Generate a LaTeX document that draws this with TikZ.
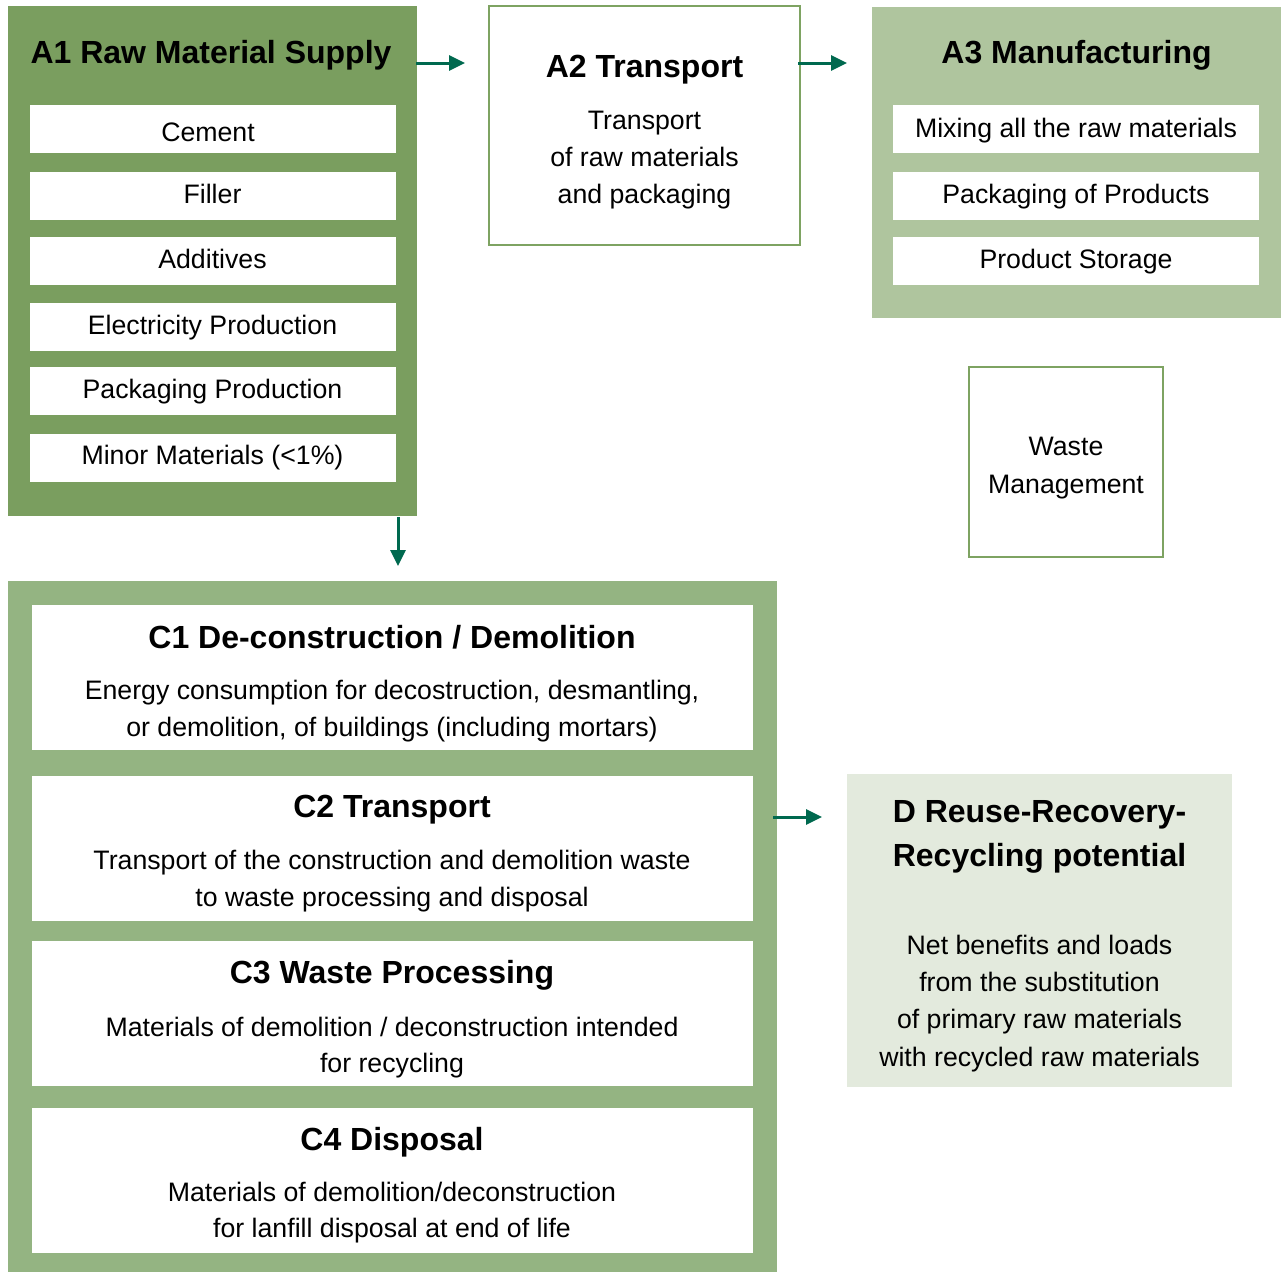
\documentclass[tikz,border=0pt]{standalone}
\usepackage{fontspec}
\setmainfont{Liberation Sans}
\usetikzlibrary{arrows.meta,calc}
\definecolor{aone}{HTML}{7A9E5F}
\definecolor{athree}{HTML}{AFC59E}
\definecolor{cgreen}{HTML}{94B482}
\definecolor{dgreen}{HTML}{E3EADD}
\definecolor{arr}{HTML}{00694F}
\definecolor{bord}{HTML}{7EA362}
\tikzset{
  panel/.style={anchor=north west, inner sep=0pt, outer sep=0pt, draw=none},
  whitebox/.style={panel, fill=white},
  framebox/.style={anchor=north west, inner sep=0pt, outer sep=0pt, draw=bord, line width=2.2pt, fill=white},
  ttl/.style={anchor=base, inner sep=0pt, yshift=-1pt, font=\fontsize{32}{38}\selectfont\bfseries},
  bodytxt/.style={anchor=base, inner sep=0pt, yshift=-1pt, font=\fontsize{26.7}{37}\selectfont},
  flow/.style={draw=arr, line width=3pt, -{Triangle[length=16pt,width=15pt]}}
}
\begin{document}
\begin{tikzpicture}[x=1pt,y=-1pt]
\useasboundingbox (0,0) rectangle (1281,1272);

% ---------- A1 ----------
\node[panel, fill=aone, minimum width=409pt, minimum height=510pt] (a1) at (8,6) {};
\node[ttl] (a1t) at (211,62) {A1 Raw Material Supply};
\node[whitebox, minimum width=366pt, minimum height=48pt] (a1b1) at (30,105) {};
\node[whitebox, minimum width=366pt, minimum height=48pt] (a1b2) at (30,172) {};
\node[whitebox, minimum width=366pt, minimum height=48pt] (a1b3) at (30,237) {};
\node[whitebox, minimum width=366pt, minimum height=48pt] (a1b4) at (30,303) {};
\node[whitebox, minimum width=366pt, minimum height=48pt] (a1b5) at (30,367) {};
\node[whitebox, minimum width=366pt, minimum height=48pt] (a1b6) at (30,434) {};
\node[bodytxt] (a1x1) at (208,140) {Cement};
\node[bodytxt] (a1x2) at (212.5,202.7) {Filler};
\node[bodytxt] (a1x3) at (212.5,267.3) {Additives};
\node[bodytxt] (a1x4) at (212.5,333.3) {Electricity Production};
\node[bodytxt] (a1x5) at (212.5,397.7) {Packaging Production};
\node[bodytxt] (a1x6) at (212.5,463.3) {Minor Materials (<1\%)};

% ---------- A2 ----------
\node[framebox, minimum width=311pt, minimum height=239pt] (a2) at (489,6) {};
\node[ttl] (a2t) at (644.5,76) {A2 Transport};
\node[bodytxt] (a2x1) at (644.5,128.3) {Transport};
\node[bodytxt] (a2x2) at (644.5,165.3) {of raw materials};
\node[bodytxt] (a2x3) at (644.5,202.3) {and packaging};

% ---------- A3 ----------
\node[panel, fill=athree, minimum width=409pt, minimum height=311pt] (a3) at (872,7) {};
\node[ttl] (a3t) at (1076.5,62.5) {A3 Manufacturing};
\node[whitebox, minimum width=366pt, minimum height=48pt] (a3b1) at (893,105) {};
\node[whitebox, minimum width=366pt, minimum height=48pt] (a3b2) at (893,172) {};
\node[whitebox, minimum width=366pt, minimum height=48pt] (a3b3) at (893,237) {};
\node[bodytxt] (a3x1) at (1076,136) {Mixing all the raw materials};
\node[bodytxt] (a3x2) at (1076,202.7) {Packaging of Products};
\node[bodytxt] (a3x3) at (1076,267.7) {Product Storage};

% ---------- Waste management ----------
\node[framebox, minimum width=194pt, minimum height=190pt] (wm) at (969,367) {};
\node[bodytxt] (wmx1) at (1066,454.3) {Waste};
\node[bodytxt] (wmx2) at (1066,492.7) {Management};

% ---------- C ----------
\node[panel, fill=cgreen, minimum width=769pt, minimum height=691pt] (cbox) at (8,581) {};
\node[whitebox, minimum width=721pt, minimum height=145pt] (c1) at (32,605) {};
\node[whitebox, minimum width=721pt, minimum height=145pt] (c2) at (32,776) {};
\node[whitebox, minimum width=721pt, minimum height=145pt] (c3) at (32,941) {};
\node[whitebox, minimum width=721pt, minimum height=145pt] (c4) at (32,1108) {};
\node[ttl] (c1t) at (392,647.7) {C1 De-construction / Demolition};
\node[bodytxt] (c1x1) at (392,698.3) {Energy consumption for decostruction, desmantling,};
\node[bodytxt] (c1x2) at (392,735.7) {or demolition, of buildings (including mortars)};
\node[ttl] (c2t) at (392,816.7) {C2 Transport};
\node[bodytxt] (c2x1) at (392,868.3) {Transport of the construction and demolition waste};
\node[bodytxt] (c2x2) at (392,905) {to waste processing and disposal};
\node[ttl] (c3t) at (392,982.7) {C3 Waste Processing};
\node[bodytxt] (c3x1) at (392,1035) {Materials of demolition / deconstruction intended};
\node[bodytxt] (c3x2) at (392,1071.7) {for recycling};
\node[ttl] (c4t) at (392,1149.3) {C4 Disposal};
\node[bodytxt] (c4x1) at (392,1200) {Materials of demolition/deconstruction};
\node[bodytxt] (c4x2) at (392,1236.7) {for lanfill disposal at end of life};

% ---------- D ----------
\node[panel, fill=dgreen, minimum width=385pt, minimum height=313pt] (dbox) at (847,774) {};
\node[ttl] (dt1) at (1039.5,821.7) {D Reuse-Recovery-};
\node[ttl] (dt2) at (1039.5,865) {Recycling potential};
\node[bodytxt] (dx1) at (1039.5,953.3) {Net benefits and loads};
\node[bodytxt] (dx2) at (1039.5,990.7) {from the substitution};
\node[bodytxt] (dx3) at (1039.5,1027.3) {of primary raw materials};
\node[bodytxt] (dx4) at (1039.5,1065) {with recycled raw materials};

% ---------- arrows ----------
\draw[flow] ($(a1.north east)+(-1,57)$) -- ($(a2.north west)+(-24,57)$);
\draw[flow] ($(a2.north east)+(-2,57)$) -- ($(a3.north west)+(-25,56)$);
\draw[flow] ($(a1.south west)+(390,1)$) -- ($(cbox.north west)+(390,-15)$);
\draw[flow] ($(cbox.north east)+(-4,236)$) -- ($(dbox.north west)+(-25,43)$);
\end{tikzpicture}
\end{document}
